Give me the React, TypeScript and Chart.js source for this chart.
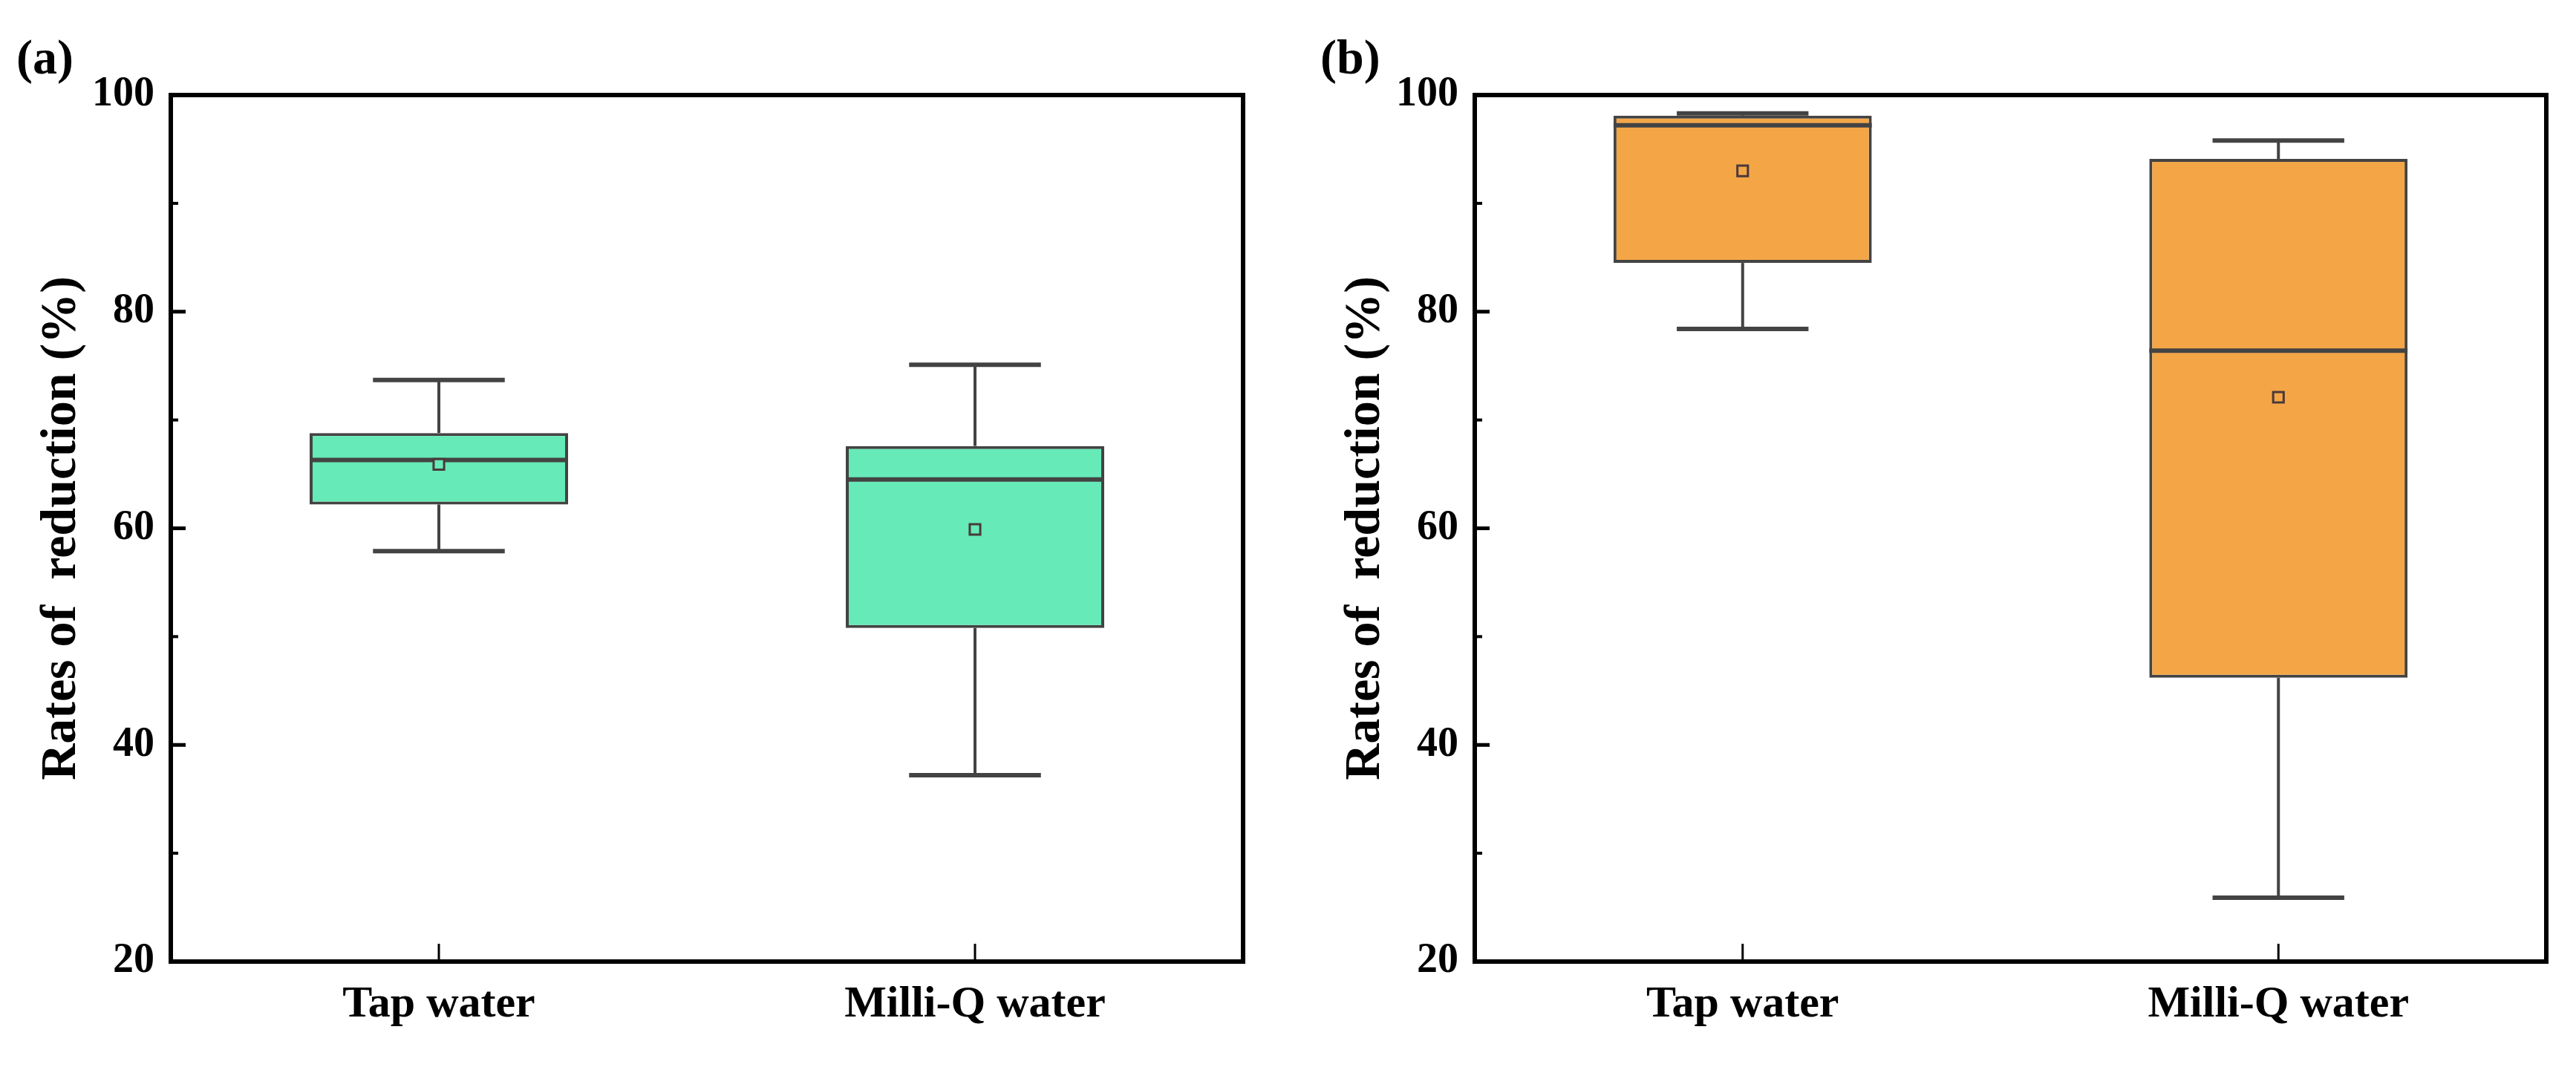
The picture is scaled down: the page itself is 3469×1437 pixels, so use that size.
import React, { useEffect, useRef } from 'react';
import { Chart, registerables } from 'chart.js';

Chart.register(...registerables);

// ---------------- data ----------------
const categories = ['Tap water', 'Milli-Q water'];
const yAxisTitle = 'Rates of  reduction (%)';
const yMin = 20;
const yMax = 100;
const yStep = 20;
const minorTickValues = [30, 50, 70, 90];

// panel (a)
const aLabel = '(a)';
const aMin = [57.9, 37.2];
const aQ1 = [62.2, 50.8];
const aMedian = [66.3, 64.5];
const aQ3 = [68.8, 67.6];
const aMax = [73.7, 75.1];
const aMean = [65.9, 59.9];

// panel (b)
const bLabel = '(b)';
const bMin = [78.4, 25.9];
const bQ1 = [84.5, 46.2];
const bMedian = [97.2, 76.4];
const bQ3 = [98.1, 94.1];
const bMax = [98.3, 95.8];
const bMean = [93.0, 72.1];

// ---------------- styles ----------------
const FONT = '"Liberation Serif", "Times New Roman", Times, serif';
const H = 1437;
const PLOT_TOP = 128;
const PLOT_BOTTOM = 1295;
const LINE = '#434343';

type PanelCfg = {
  label: string;
  min: number[];
  q1: number[];
  median: number[];
  q3: number[];
  max: number[];
  mean: number[];
  fill: string;
  left: number;
  width: number;
  plotLeft: number;
  plotRight: number;
  labelX: number;
  titleCenter: number;
};

const panels: PanelCfg[] = [
  {
    label: aLabel, min: aMin, q1: aQ1, median: aMedian, q3: aQ3, max: aMax, mean: aMean,
    fill: '#66EAB7', left: 0, width: 1734, plotLeft: 230, plotRight: 1674, labelX: 22, titleCenter: 83,
  },
  {
    label: bLabel, min: bMin, q1: bQ1, median: bMedian, q3: bQ3, max: bMax, mean: bMean,
    fill: '#F4A647', left: 1734, width: 1735, plotLeft: 252, plotRight: 1695, labelX: 44, titleCenter: 105,
  },
];

function line(ctx: CanvasRenderingContext2D, x1: number, y1: number, x2: number, y2: number) {
  ctx.beginPath();
  ctx.moveTo(x1, y1);
  ctx.lineTo(x2, y2);
  ctx.stroke();
}

function PanelChart({ cfg }: { cfg: PanelCfg }) {
  const ref = useRef<HTMLCanvasElement>(null);

  useEffect(() => {
    if (!ref.current) return;

    const boxPlugin = {
      id: 'boxWhiskers',
      afterDatasetDraw(chart: any, args: any) {
        if (args.meta.type !== 'bar') return;
        const ctx = chart.ctx as CanvasRenderingContext2D;
        const ys = chart.scales.y;
        ctx.save();
        ctx.strokeStyle = LINE;
        ctx.lineCap = 'butt';
        args.meta.data.forEach((bar: any, i: number) => {
          const x = bar.x;
          const w = bar.width;
          const capW = w * 0.51;
          const pMax = ys.getPixelForValue(cfg.max[i]);
          const pMin = ys.getPixelForValue(cfg.min[i]);
          const pQ1 = ys.getPixelForValue(cfg.q1[i]);
          const pQ3 = ys.getPixelForValue(cfg.q3[i]);
          const pMed = ys.getPixelForValue(cfg.median[i]);
          ctx.lineWidth = 4;
          line(ctx, x, pQ3, x, pMax);
          line(ctx, x, pQ1, x, pMin);
          ctx.lineWidth = 6;
          line(ctx, x - capW / 2, pMax, x + capW / 2, pMax);
          line(ctx, x - capW / 2, pMin, x + capW / 2, pMin);
          ctx.lineWidth = 6;
          line(ctx, x - w / 2, pMed, x + w / 2, pMed);
        });
        ctx.restore();
      },
    };

    const framePlugin = {
      id: 'frameTicks',
      afterDraw(chart: any) {
        const ctx = chart.ctx as CanvasRenderingContext2D;
        const { left, right, top, bottom } = chart.chartArea;
        const ys = chart.scales.y;
        const xs = chart.scales.x;
        ctx.save();
        ctx.strokeStyle = '#000';
        ctx.lineCap = 'butt';
        // major y ticks
        ctx.lineWidth = 5;
        ys.ticks.forEach((t: any) => {
          const py = ys.getPixelForValue(t.value);
          line(ctx, left, py, left + 20, py);
        });
        // minor y ticks
        ctx.lineWidth = 4;
        minorTickValues.forEach((v) => {
          const py = ys.getPixelForValue(v);
          line(ctx, left, py, left + 10, py);
        });
        // x ticks
        ctx.lineWidth = 3;
        categories.forEach((_, i) => {
          const px = xs.getPixelForValue(i);
          line(ctx, px, bottom, px, bottom - 24);
        });
        // frame
        ctx.lineWidth = 6;
        ctx.strokeRect(left, top, right - left, bottom - top);
        // panel label
        ctx.fillStyle = '#000';
        ctx.font = `bold 66px ${FONT}`;
        ctx.textAlign = 'left';
        ctx.textBaseline = 'alphabetic';
        ctx.fillText(cfg.label, cfg.labelX, 99);
        ctx.restore();
      },
    };

    const chart = new Chart(ref.current, {
      type: 'bar',
      data: {
        labels: categories,
        datasets: [
          {
            type: 'bar',
            data: categories.map((_, i) => [cfg.q1[i], cfg.q3[i]]) as any,
            backgroundColor: cfg.fill,
            borderColor: LINE,
            borderWidth: 4,
            borderSkipped: false,
            categoryPercentage: 1,
            barPercentage: 0.482,
            order: 1,
          } as any,
          {
            type: 'line',
            data: cfg.mean,
            showLine: false,
            pointStyle: 'rect',
            pointRadius: 10,
            pointBorderWidth: 3,
            pointBorderColor: '#4a3a3a',
            pointBackgroundColor: cfg.fill,
            order: 0,
          } as any,
        ],
      },
      options: {
        responsive: false,
        maintainAspectRatio: false,
        animation: false,
        events: [],
        layout: {
          padding: { left: 0, top: PLOT_TOP, right: cfg.width - cfg.plotRight, bottom: 0 },
        },
        plugins: {
          legend: { display: false },
          tooltip: { enabled: false },
          title: { display: false },
        },
        scales: {
          x: {
            type: 'category',
            offset: true,
            grid: { display: false, drawTicks: false },
            border: { display: false },
            ticks: {
              color: '#000',
              font: { family: FONT, size: 60, weight: 'bold' },
              padding: 22,
              maxRotation: 0,
              autoSkip: false,
            },
            afterFit: (s: any) => {
              s.height = H - PLOT_BOTTOM;
            },
          },
          y: {
            type: 'linear',
            min: yMin,
            max: yMax,
            grid: { display: false, drawTicks: false },
            border: { display: false },
            ticks: {
              stepSize: yStep,
              color: '#000',
              font: { family: FONT, size: 56, weight: 'bold' },
              padding: 22,
            },
            title: {
              display: true,
              text: yAxisTitle,
              color: '#000',
              font: { family: FONT, size: 68, weight: 'bold', lineHeight: 1.2 },
              padding: { top: cfg.titleCenter - 40.8, bottom: 0 },
            },
            afterFit: (s: any) => {
              s.width = cfg.plotLeft;
            },
          },
        },
      } as any,
      plugins: [boxPlugin, framePlugin],
    });

    return () => chart.destroy();
  }, [cfg]);

  return (
    <canvas
      ref={ref}
      width={cfg.width}
      height={H}
      style={{ position: 'absolute', left: cfg.left, top: 0, width: cfg.width, height: H }}
    />
  );
}

export default function App() {
  return (
    <div
      style={{
        position: 'absolute',
        left: 0,
        top: 0,
        width: 3469,
        height: H,
        background: '#fff',
        overflow: 'hidden',
      }}
    >
      {panels.map((p) => (
        <PanelChart key={p.label} cfg={p} />
      ))}
    </div>
  );
}
